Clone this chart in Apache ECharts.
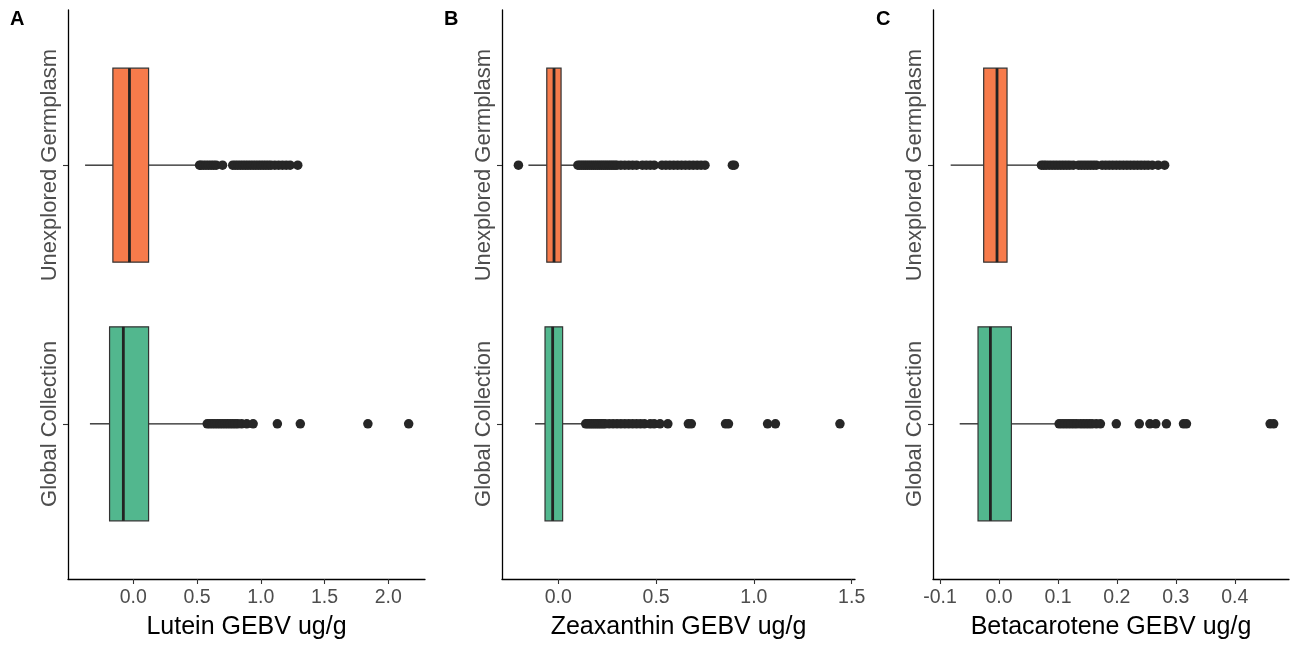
<!DOCTYPE html>
<html>
<head>
<meta charset="utf-8">
<script src="https://cdn.jsdelivr.net/npm/echarts@6/dist/echarts.min.js"></script>
<style>html,body{margin:0;padding:0;background:#fff}#c{width:1294px;height:645px}</style>
</head>
<body>
<div id="c"></div>
<script>
// ---- data ----
var categories = ['Global Collection', 'Unexplored Germplasm']; // y positions 1, 2
var panelLetters = ['A', 'B', 'C'];
var axisTitles = ['Lutein GEBV ug/g', 'Zeaxanthin GEBV ug/g', 'Betacarotene GEBV ug/g'];
var tickValuesA = [0, 0.5, 1.0, 1.5, 2.0];
var tickValuesB = [0, 0.5, 1.0, 1.5];
var tickValuesC = [-0.1, 0, 0.1, 0.2, 0.3, 0.4];
// box stats: [lowerWhisker, Q1, median, Q3, upperWhisker]
var luteinGlobal = [-0.34, -0.186, -0.078, 0.12, 0.55];
var luteinUnexplored = [-0.378, -0.16, -0.03, 0.12, 0.50];
var zeaGlobal = [-0.119, -0.068, -0.029, 0.022, 0.137];
var zeaUnexplored = [-0.153, -0.059, -0.022, 0.014, 0.097];
var betaGlobal = [-0.0667, -0.0356, -0.0146, 0.021, 0.0995];
var betaUnexplored = [-0.082, -0.026, -0.0034, 0.0136, 0.069];
// outliers
var luteinGlobalOut = [0.58,0.60,0.62,0.64,0.66,0.68,0.70,0.72,0.74,0.76,0.78,0.80,0.82,0.85,0.89,0.94,1.13,1.31,1.84,2.16];
var luteinUnexploredOut = [0.52,0.53,0.55,0.57,0.59,0.61,0.63,0.65,0.70,0.78,0.80,0.82,0.84,0.86,0.88,0.90,0.92,0.94,0.96,0.98,1.00,1.02,1.04,1.06,1.08,1.11,1.14,1.17,1.20,1.23,1.29];
var zeaGlobalOut = [0.14,0.15,0.16,0.17,0.18,0.19,0.20,0.21,0.22,0.23,0.24,0.26,0.28,0.30,0.32,0.34,0.36,0.38,0.40,0.42,0.44,0.47,0.49,0.52,0.56,0.665,0.68,0.855,0.87,1.07,1.11,1.44];
var zeaUnexploredOut = [-0.204,0.10,0.11,0.12,0.13,0.14,0.15,0.16,0.17,0.18,0.19,0.20,0.21,0.22,0.23,0.24,0.25,0.26,0.27,0.28,0.29,0.30,0.32,0.34,0.36,0.38,0.40,0.43,0.45,0.47,0.49,0.53,0.55,0.57,0.59,0.61,0.63,0.65,0.67,0.69,0.71,0.73,0.75,0.89,0.90];
var betaGlobalOut = [0.102,0.107,0.112,0.117,0.122,0.127,0.132,0.138,0.143,0.148,0.153,0.158,0.165,0.172,0.199,0.238,0.256,0.266,0.284,0.313,0.318,0.460,0.466];
var betaUnexploredOut = [0.072,0.076,0.080,0.085,0.090,0.095,0.100,0.105,0.110,0.115,0.120,0.126,0.135,0.140,0.145,0.150,0.155,0.160,0.165,0.175,0.181,0.187,0.193,0.199,0.205,0.211,0.217,0.223,0.229,0.235,0.241,0.247,0.253,0.260,0.270,0.281];
var xRanges = [[-0.512, 2.288], [-0.288, 1.517], [-0.112, 0.492]];

// ---- build ----
var fillColors = ['#52B78E', '#F77B4B'];
var grids = [
  {left: 68, top: 10, width: 357, height: 570},
  {left: 502, top: 10, width: 353, height: 570},
  {left: 933, top: 10, width: 356, height: 570}
];
var boxSets = [
  [luteinGlobal, luteinUnexplored],
  [zeaGlobal, zeaUnexplored],
  [betaGlobal, betaUnexplored]
];
var outSets = [
  [luteinGlobalOut, luteinUnexploredOut],
  [zeaGlobalOut, zeaUnexploredOut],
  [betaGlobalOut, betaUnexploredOut]
];
var tickSets = [tickValuesA, tickValuesB, tickValuesC];
var font = '"Liberation Sans", Arial, Helvetica, sans-serif';

var xAxes = [], yAxes = [], series = [];
for (var p = 0; p < 3; p++) {
  xAxes.push({
    type: 'value', gridIndex: p, min: xRanges[p][0], max: xRanges[p][1],
    name: axisTitles[p], nameLocation: 'middle', nameGap: 36,
    nameTextStyle: {color: '#000', fontSize: 25, fontFamily: font},
    axisLine: {show: true, onZero: false, lineStyle: {color: '#000', width: 1.3}},
    axisTick: {show: true, length: 5, customValues: tickSets[p], lineStyle: {color: '#333', width: 1.1}},
    axisLabel: {customValues: tickSets[p], color: '#4D4D4D', fontSize: 19.5, fontFamily: font, margin: 9,
      formatter: function (v) { return (Math.abs(v) < 1e-9 ? 0 : v).toFixed(1); }},
    splitLine: {show: false}
  });
  yAxes.push({
    type: 'value', gridIndex: p, min: 0.4, max: 2.6,
    axisLine: {show: true, onZero: false, lineStyle: {color: '#000', width: 1.3}},
    axisTick: {show: true, length: 5, customValues: [1, 2], lineStyle: {color: '#333', width: 1.1}},
    axisLabel: {customValues: [1, 2], rotate: 90, color: '#4D4D4D', fontSize: 22, fontFamily: font, margin: 7,
      align: 'center', verticalAlign: 'bottom',
      formatter: function (v) { return categories[Math.round(v) - 1]; }},
    splitLine: {show: false}
  });
  var boxData = boxSets[p].map(function (s, i) { return [i + 1, s[0], s[1], s[2], s[3], s[4], i]; });
  series.push({
    type: 'custom', xAxisIndex: p, yAxisIndex: p, data: boxData, z: 2,
    encode: {x: [1, 2, 3, 4, 5], y: 0},
    renderItem: function (params, api) {
      var y = api.value(0);
      var lo = api.coord([api.value(1), y]);
      var q1 = api.coord([api.value(2), y]);
      var md = api.coord([api.value(3), y]);
      var q3 = api.coord([api.value(4), y]);
      var hi = api.coord([api.value(5), y]);
      var half = api.size([0, 0.375])[1];
      var ci = api.value(6);
      return {
        type: 'group',
        children: [
          {type: 'line', shape: {x1: lo[0], y1: lo[1], x2: q1[0], y2: q1[1]}, style: {stroke: '#222', lineWidth: 1.3}},
          {type: 'line', shape: {x1: q3[0], y1: q3[1], x2: hi[0], y2: hi[1]}, style: {stroke: '#222', lineWidth: 1.3}},
          {type: 'rect', shape: {x: q1[0], y: q1[1] - half, width: q3[0] - q1[0], height: 2 * half},
            style: {fill: fillColors[ci], stroke: '#333', lineWidth: 1.2}},
          {type: 'line', shape: {x1: md[0], y1: md[1] - half, x2: md[0], y2: md[1] + half}, style: {stroke: '#222', lineWidth: 2.8}}
        ]
      };
    }
  });
  for (var c = 0; c < 2; c++) {
    series.push({
      type: 'scatter', xAxisIndex: p, yAxisIndex: p, z: 3,
      symbol: 'circle', symbolSize: 9.5,
      itemStyle: {color: '#262626', opacity: 1},
      data: outSets[p][c].map(function (v) { return [v, c + 1]; }),
      silent: true
    });
  }
}

var chart = echarts.init(document.getElementById('c'), null, {renderer: 'canvas'});
chart.setOption({
  backgroundColor: '#fff',
  animation: false,
  grid: grids,
  xAxis: xAxes,
  yAxis: yAxes,
  series: series,
  graphic: [
    {type: 'text', left: 10, top: 9, style: {text: panelLetters[0], fontSize: 20, fontWeight: 'bold', fill: '#000', fontFamily: font}},
    {type: 'text', left: 444, top: 9, style: {text: panelLetters[1], fontSize: 20, fontWeight: 'bold', fill: '#000', fontFamily: font}},
    {type: 'text', left: 876, top: 9, style: {text: panelLetters[2], fontSize: 20, fontWeight: 'bold', fill: '#000', fontFamily: font}}
  ]
});
</script>
</body>
</html>
